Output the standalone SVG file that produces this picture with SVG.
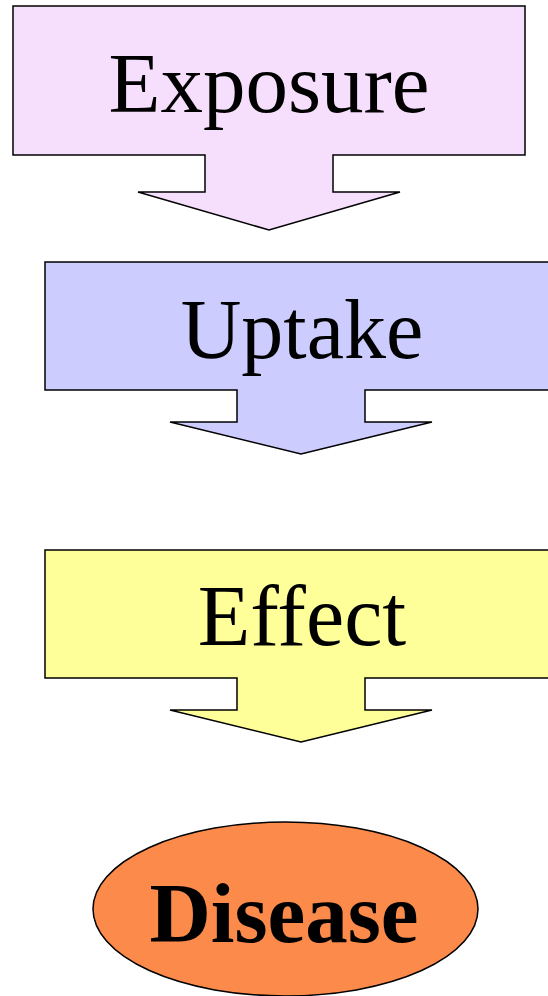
<svg xmlns="http://www.w3.org/2000/svg" width="548" height="996" viewBox="0 0 548 996">
<style>
.shape{stroke:#000;stroke-width:1.5;stroke-linejoin:miter}
.lbl{font-family:"Liberation Serif","Times New Roman",serif;text-anchor:middle;fill:#000}
</style>
<rect width="548" height="996" fill="#fff"/>
<g id="exposure">
<polygon class="shape" fill="#F6DEFD" points="13,6 525,6 525,155 333,155 333,192 400,192 269,230 138,192 205,192 205,155 13,155"/>
<text class="lbl" x="269" y="112" font-size="85">Exposure</text>
</g>
<g id="uptake">
<polygon class="shape" fill="#CCCCFF" points="45,262 560,262 560,390 365,390 365,422 432,422 301,454 170,422 237,422 237,390 45,390"/>
<text class="lbl" x="302" y="358" font-size="84">Uptake</text>
</g>
<g id="effect">
<polygon class="shape" fill="#FFFF99" points="45,550 560,550 560,678 365,678 365,710 432,710 301,742 170,710 237,710 237,678 45,678"/>
<text class="lbl" x="302" y="645" font-size="86">Effect</text>
</g>
<g id="disease">
<ellipse class="shape" fill="#FC8A4A" cx="285.5" cy="909" rx="192.5" ry="87"/>
<text class="lbl" x="284" y="942" font-size="85" font-weight="bold">Disease</text>
</g>
<g id="connectors"/>
</svg>
